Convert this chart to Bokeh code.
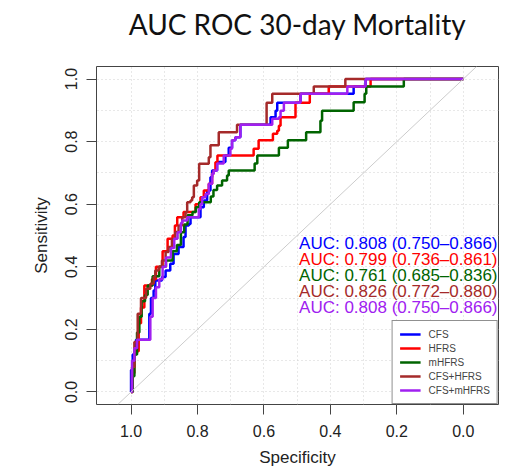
from bokeh.plotting import figure
from bokeh.models import (Range1d, FixedTicker, PrintfTickFormatter, Slope,
                          ColumnDataSource, Legend, LegendItem, Title)
from bokeh.core.properties import value
from bokeh.embed import file_html
from bokeh.resources import INLINE

# ---------------- data ----------------
title_text = "AUC ROC 30-day Mortality"
names = ["CFS", "HFRS", "mHFRS", "CFS+HFRS", "CFS+mHFRS"]
colors = ["#0000FF", "#FF0000", "#006400", "#A52A2A", "#A020F0"]
auc = [0.808, 0.799, 0.761, 0.826, 0.808]
ci_low = [0.750, 0.736, 0.685, 0.772, 0.750]
ci_high = [0.866, 0.861, 0.836, 0.880, 0.866]

# ROC corner points: at each specificity the sensitivity rises to the given value
cfs_spec = [1.000, 0.995, 0.985, 0.945, 0.940, 0.932, 0.927, 0.907, 0.896, 0.882,
            0.872, 0.857, 0.842, 0.836, 0.826, 0.821, 0.791, 0.781, 0.771, 0.761,
            0.756, 0.741, 0.716, 0.706, 0.696, 0.686, 0.671, 0.580, 0.565, 0.560,
            0.490, 0.330, 0.294]
cfs_sens = [0.070, 0.120, 0.167, 0.250, 0.300, 0.324, 0.356, 0.367, 0.388, 0.410,
            0.441, 0.463, 0.495, 0.532, 0.537, 0.558, 0.590, 0.612, 0.644, 0.686,
            0.708, 0.735, 0.756, 0.780, 0.804, 0.814, 0.854, 0.878, 0.899, 0.924,
            0.953, 0.976, 1.000]

hfrs_spec = [0.995, 0.990, 0.977, 0.970, 0.960, 0.937, 0.925, 0.905, 0.890, 0.875,
             0.868, 0.861, 0.842, 0.806, 0.791, 0.781, 0.766, 0.756, 0.751, 0.746,
             0.740, 0.631, 0.616, 0.573, 0.560, 0.555, 0.550, 0.505, 0.462, 0.405,
             0.279]
hfrs_sens = [0.060, 0.130, 0.220, 0.270, 0.340, 0.360, 0.400, 0.450, 0.490, 0.500,
             0.532, 0.558, 0.575, 0.600, 0.622, 0.644, 0.665, 0.697, 0.708, 0.734,
             0.756, 0.777, 0.804, 0.825, 0.835, 0.851, 0.878, 0.924, 0.953, 0.976,
             1.000]

mhfrs_spec = [0.995, 0.990, 0.982, 0.975, 0.968, 0.958, 0.950, 0.935, 0.915, 0.895,
              0.875, 0.862, 0.850, 0.840, 0.830, 0.815, 0.805, 0.795, 0.760, 0.752,
              0.741, 0.726, 0.711, 0.706, 0.628, 0.620, 0.555, 0.528, 0.473, 0.430,
              0.425, 0.330, 0.297, 0.292, 0.179]
mhfrs_sens = [0.050, 0.120, 0.190, 0.240, 0.290, 0.310, 0.340, 0.370, 0.400, 0.420,
              0.450, 0.470, 0.510, 0.535, 0.565, 0.575, 0.590, 0.606, 0.625, 0.645,
              0.660, 0.676, 0.692, 0.708, 0.730, 0.756, 0.780, 0.804, 0.830, 0.867,
              0.899, 0.926, 0.953, 0.976, 1.000]

cfs_hfrs_spec = [0.997, 0.990, 0.980, 0.970, 0.955, 0.942, 0.932, 0.927, 0.917, 0.907,
                 0.896, 0.887, 0.877, 0.867, 0.857, 0.846, 0.836, 0.831, 0.821, 0.816,
                 0.811, 0.801, 0.795, 0.766, 0.761, 0.736, 0.681, 0.592, 0.575, 0.450,
                 0.355]
cfs_hfrs_sens = [0.080, 0.160, 0.250, 0.300, 0.330, 0.346, 0.367, 0.388, 0.399, 0.420,
                 0.447, 0.463, 0.489, 0.511, 0.532, 0.558, 0.574, 0.606, 0.612, 0.622,
                 0.660, 0.676, 0.729, 0.750, 0.788, 0.830, 0.854, 0.924, 0.953, 0.976,
                 1.000]

cfs_mhfrs_spec = [0.997, 0.990, 0.982, 0.942, 0.935, 0.925, 0.915, 0.905, 0.895, 0.880,
                  0.870, 0.860, 0.850, 0.846, 0.831, 0.796, 0.791, 0.786, 0.776, 0.766,
                  0.756, 0.751, 0.741, 0.721, 0.701, 0.696, 0.686, 0.671, 0.575, 0.555,
                  0.550, 0.540, 0.490, 0.349, 0.294]
cfs_mhfrs_sens = [0.100, 0.140, 0.167, 0.240, 0.300, 0.335, 0.360, 0.400, 0.430, 0.460,
                  0.490, 0.510, 0.540, 0.548, 0.558, 0.585, 0.601, 0.622, 0.633, 0.665,
                  0.697, 0.708, 0.730, 0.756, 0.777, 0.804, 0.814, 0.854, 0.873, 0.878,
                  0.899, 0.924, 0.953, 0.976, 1.000]

curves = [(cfs_spec, cfs_sens), (hfrs_spec, hfrs_sens), (mhfrs_spec, mhfrs_sens),
          (cfs_hfrs_spec, cfs_hfrs_sens), (cfs_mhfrs_spec, cfs_mhfrs_sens)]

tick_values = [0.0, 0.2, 0.4, 0.6, 0.8, 1.0]
grid_values = [0.0, 0.1, 0.2, 0.3, 0.4, 0.5, 0.6, 0.7, 0.8, 0.9, 1.0]


def staircase(spec, sens):
    xs, ys = [1.0], [0.0]
    for s, t in zip(spec, sens):
        xs += [s, s]
        ys += [ys[-1], t]
    xs.append(0.0)
    ys.append(ys[-1])
    return xs, ys


FONT = "Liberation Sans"

p = figure(width=514, height=472, output_backend="svg", toolbar_location=None,
           x_range=Range1d(1.104, -0.106), y_range=Range1d(-0.04, 1.04),
           min_border_left=96, min_border_right=16, min_border_top=66,
           min_border_bottom=68)
p.background_fill_color = "white"
p.border_fill_color = "white"
p.outline_line_color = "#444444"
p.outline_line_width = 1

# title: a thin spacer panel next to the frame, then the title text above it
p.add_layout(Title(text=" ", text_font_size="10px", standoff=13), "above")
p.add_layout(Title(text=title_text, text_font="Lato", text_font_size="28px",
                   text_font_style="normal", align="center", standoff=0,
                   text_color="#111111"), "above")

# grid
for g in (p.xgrid, p.ygrid):
    g.ticker = FixedTicker(ticks=grid_values)
    g.grid_line_color = "#D0D0D0"
    g.grid_line_dash = "1 3"
    g.grid_line_width = 1

# axes
for ax in (p.xaxis, p.yaxis):
    ax.ticker = FixedTicker(ticks=tick_values)
    ax.formatter = PrintfTickFormatter(format="%.1f")
    ax.axis_line_color = None
    ax.major_tick_in = 0
    ax.major_tick_out = 10
    ax.major_tick_line_color = "#444444"
    ax.minor_tick_line_color = None
    ax.major_label_text_font = FONT
    ax.major_label_text_font_size = "16px"
    ax.major_label_text_color = "#222222"
    ax.axis_label_text_font = FONT
    ax.axis_label_text_font_size = "17px"
    ax.axis_label_text_font_style = "normal"
    ax.axis_label_text_color = "#222222"
    ax.major_label_standoff = 10
    ax.axis_label_standoff = 8
p.xaxis.axis_label = "Specificity"
p.yaxis.axis_label = "Sensitivity"
p.yaxis.major_label_orientation = "vertical"
p.yaxis.major_label_standoff = 9
p.yaxis.axis_label_standoff = 12

# chance diagonal
p.add_layout(Slope(gradient=-1, y_intercept=1, line_color="#CCCCCC", line_width=1))

items = []
for (sp, se), name, col in zip(curves, names, colors):
    xs, ys = staircase(sp, se)
    r = p.line(xs, ys, line_color=col, line_width=2.5)
    items.append(LegendItem(label=name, renderers=[r]))

# AUC texts
labels = [f"AUC: {a:.3f} ({lo:.3f}\u2013{hi:.3f})" for a, lo, hi in zip(auc, ci_low, ci_high)]
step = 0.051
ys_txt = [0.474 - i * step for i in range(len(labels))]
src = ColumnDataSource(dict(x=[p.x_range.end + 0.003] * len(labels), y=ys_txt,
                            text=labels, color=colors))
p.text(x="x", y="y", text="text", text_color="color", source=src,
       text_align="right", text_baseline="middle",
       text_font=value(FONT), text_font_size="17px")

legend = Legend(items=items, location="bottom_right", margin=0, padding=7,
                spacing=2, glyph_width=21, glyph_height=12, label_height=12,
                label_standoff=8, label_text_font=FONT, label_text_font_size="10px",
                border_line_color="#222222", border_line_width=1,
                background_fill_color="white", background_fill_alpha=1.0)
p.add_layout(legend)

open("out.html", "w").write(file_html(p, INLINE))
